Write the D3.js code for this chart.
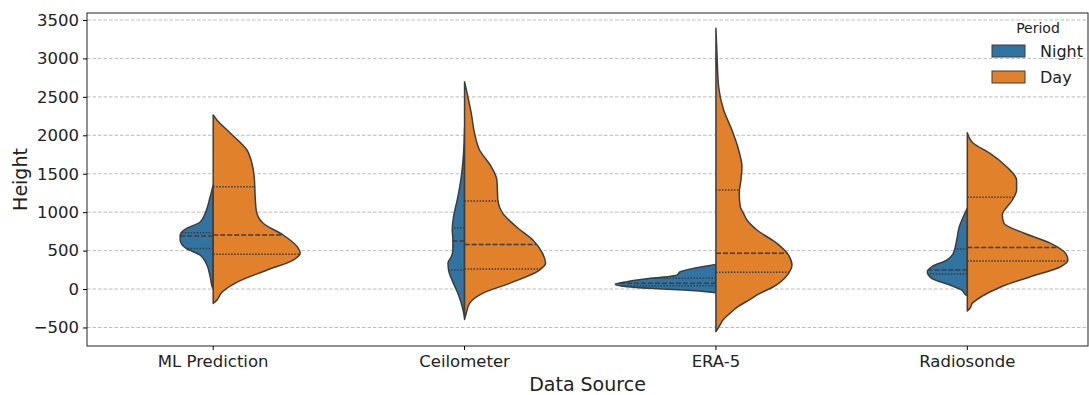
<!DOCTYPE html>
<html>
<head>
<meta charset="utf-8">
<script src="https://cdn.jsdelivr.net/npm/d3@7"></script>
<style>
  body { margin: 0; background: white; }
  text { font-family: "DejaVu Sans", sans-serif; fill: #222; }
</style>
</head>
<body>
<div id="chart"></div>
<script>
// categories and ticks
var sources = ["ML Prediction", "Ceilometer", "ERA-5", "Radiosonde"];
var periods = ["Night", "Day"];
var yTicks = [-500, 0, 500, 1000, 1500, 2000, 2500, 3000, 3500];

// density profiles: [height, relative density]
var mlNight = [[1353,0],[1200,.03],[986,.08],[872,.13],[785,.27],[733,.32],[703,.33],[638,.33],[529,.27],[442,.13],[334,.07],[160,.03],[30,.01],[0,0]];
var mlDay = [[2264,0],[2199,.037],[2030,.17],[1809,.337],[1636,.387],[1461,.41],[1200,.42],[1028,.43],[855,.50],[703,.70],[551,.84],[464,.87],[377,.80],[247,.54],[91,.24],[-38,.09],[-168,.02],[-186,0]];
var ceilNight = [[2100,0],[1766,.01],[1461,.033],[1200,.067],[941,.11],[768,.123],[638,.117],[507,.117],[420,.133],[340,.165],[247,.16],[139,.133],[-56,.067],[-230,.023],[-338,.005],[-380,0]];
var ceilDay = [[2697,0],[2502,.033],[2286,.067],[2026,.10],[1809,.15],[1591,.267],[1418,.323],[1158,.333],[985,.383],[811,.517],[638,.683],[464,.78],[334,.81],[247,.75],[74,.45],[-56,.18],[-186,.05],[-316,.017],[-395,0]];
var eraNight = [[321,0],[300,.09],[269,.224],[225,.357],[182,.39],[139,.657],[95,.89],[61,1.007],[30,.89],[9,.657],[-13,.324],[-48,0]];
var eraDay = [[3392,0],[3067,.01],[2632,.027],[2329,.077],[2069,.16],[1809,.227],[1591,.26],[1418,.25],[1245,.233],[1071,.243],[985,.276],[898,.31],[768,.41],[594,.61],[442,.726],[312,.76],[204,.726],[30,.576],[-56,.44],[-143,.33],[-230,.22],[-316,.14],[-403,.07],[-470,.04],[-533,.01],[-555,0]];
var radioNight = [[1050,0],[941,.04],[811,.08],[638,.106],[464,.14],[377,.206],[290,.356],[225,.40],[139,.356],[52,.173],[-13,.056],[-78,.013],[-85,0]];
var radioDay = [[2034,0],[1896,.06],[1766,.227],[1591,.393],[1418,.493],[1288,.493],[1158,.45],[963,.35],[855,.366],[725,.57],[594,.833],[464,.983],[377,1.006],[290,.933],[160,.63],[30,.34],[-100,.14],[-186,.05],[-251,.027],[-286,0]];

// quartiles [q1, median, q3]
var mlNightQ = [529, 690, 733];
var mlDayQ = [451, 703, 1331];
var ceilNightQ = [247, 625, 798];
var ceilDayQ = [260, 581, 1145];
var eraNightQ = [43, 74, 139];
var eraDayQ = [217, 464, 1288];
var radioNightQ = [195, 247, 520];
var radioDayQ = [364, 542, 1193];

var violins = [
  {source: sources[0], period: "Night", profile: mlNight, q: mlNightQ},
  {source: sources[0], period: "Day", profile: mlDay, q: mlDayQ},
  {source: sources[1], period: "Night", profile: ceilNight, q: ceilNightQ},
  {source: sources[1], period: "Day", profile: ceilDay, q: ceilDayQ},
  {source: sources[2], period: "Night", profile: eraNight, q: eraNightQ},
  {source: sources[2], period: "Day", profile: eraDay, q: eraDayQ},
  {source: sources[3], period: "Night", profile: radioNight, q: radioNightQ},
  {source: sources[3], period: "Day", profile: radioDay, q: radioDayQ}
];

var W = 1089, H = 395;
var m = {left: 87, top: 13, right: 1088, bottom: 346};

var svg = d3.select("#chart").append("svg")
    .attr("width", W)
    .attr("height", H);

var x = d3.scaleBand()
    .domain(sources)
    .range([87.5, 1093])
    .padding(0);

var y = d3.scaleLinear()
    .domain([-741, 3591])
    .range([m.bottom, m.top]);

var wScale = d3.scaleLinear().domain([0, 1]).range([0, 100]);

var color = d3.scaleOrdinal()
    .domain(periods)
    .range(["#3274a1", "#e1812c"]);

// grid
svg.append("g")
  .selectAll("line")
  .data(yTicks)
  .enter().append("line")
    .attr("x1", m.left).attr("x2", m.right)
    .attr("y1", function(d) { return y(d); })
    .attr("y2", function(d) { return y(d); })
    .style("stroke", "#b4b4b4")
    .style("stroke-width", 0.9)
    .style("stroke-dasharray", "3.5,2");

function center(d) { return x(d.source) + x.bandwidth() / 2; }
function side(d) { return d.period === "Night" ? -1 : 1; }

// width of a profile at a given height (linear between read points)
function widthAt(profile, h) {
  for (var i = 0; i < profile.length - 1; i++) {
    var a = profile[i], b = profile[i + 1];
    if (h <= a[0] && h >= b[0]) {
      var t = (a[0] - h) / (a[0] - b[0]);
      return a[1] + t * (b[1] - a[1]);
    }
  }
  return 0;
}

var g = svg.append("g");

violins.forEach(function(v) {
  var cx = center(v), s = side(v);
  var area = d3.area()
      .curve(d3.curveMonotoneY)
      .y(function(d) { return y(d[0]); })
      .x0(cx)
      .x1(function(d) { return cx + s * wScale(d[1]); });

  g.append("path")
    .datum(v.profile)
    .attr("d", area)
    .style("fill", color(v.period))
    .style("stroke", "#3d3d3d")
    .style("stroke-width", 1.5)
    .style("stroke-linejoin", "round");

  v.q.forEach(function(qv, i) {
    g.append("line")
      .attr("x1", cx)
      .attr("x2", cx + s * wScale(widthAt(v.profile, qv)))
      .attr("y1", y(qv)).attr("y2", y(qv))
      .style("stroke", "#3d3d3d")
      .style("stroke-width", 1.5)
      .style("stroke-dasharray", i === 1 ? "5,2" : "1.5,1.5");
  });
});

// frame
svg.append("rect")
  .attr("x", m.left).attr("y", m.top)
  .attr("width", m.right - m.left).attr("height", m.bottom - m.top)
  .style("fill", "none")
  .style("stroke", "#222")
  .style("stroke-width", 1);

// y axis
var yAxis = svg.append("g")
  .attr("transform", "translate(" + m.left + ",0)")
  .call(d3.axisLeft(y).tickValues(yTicks).tickSize(4).tickPadding(4)
        .tickFormat(function(d) { return d < 0 ? "\u2212" + Math.abs(d) : d; }));
yAxis.select(".domain").remove();
yAxis.selectAll("text").style("font-size", "16.5px");

// x axis
var xAxis = svg.append("g")
  .attr("transform", "translate(0," + m.bottom + ")")
  .call(d3.axisBottom(x).tickSize(4).tickPadding(5));
xAxis.select(".domain").remove();
xAxis.selectAll("text").style("font-size", "16.5px");

// axis titles
svg.append("text")
  .attr("x", (m.left + m.right) / 2)
  .attr("y", 391)
  .attr("text-anchor", "middle")
  .style("font-size", "19px")
  .text("Data Source");

svg.append("text")
  .attr("transform", "translate(27," + ((m.top + m.bottom) / 2) + ") rotate(-90)")
  .attr("text-anchor", "middle")
  .style("font-size", "19px")
  .text("Height");

// legend
var legend = svg.append("g");
legend.append("text")
  .attr("x", 1038).attr("y", 33)
  .attr("text-anchor", "middle")
  .style("font-size", "14px")
  .text("Period");

periods.forEach(function(p, i) {
  legend.append("rect")
    .attr("x", 992).attr("y", 45 + i * 26)
    .attr("width", 33).attr("height", 12)
    .style("fill", color(p))
    .style("stroke", "#3d3d3d")
    .style("stroke-width", 1);
  legend.append("text")
    .attr("x", 1040).attr("y", 51 + i * 26)
    .attr("dy", "0.35em")
    .style("font-size", "16px")
    .text(p);
});
</script>
</body>
</html>
